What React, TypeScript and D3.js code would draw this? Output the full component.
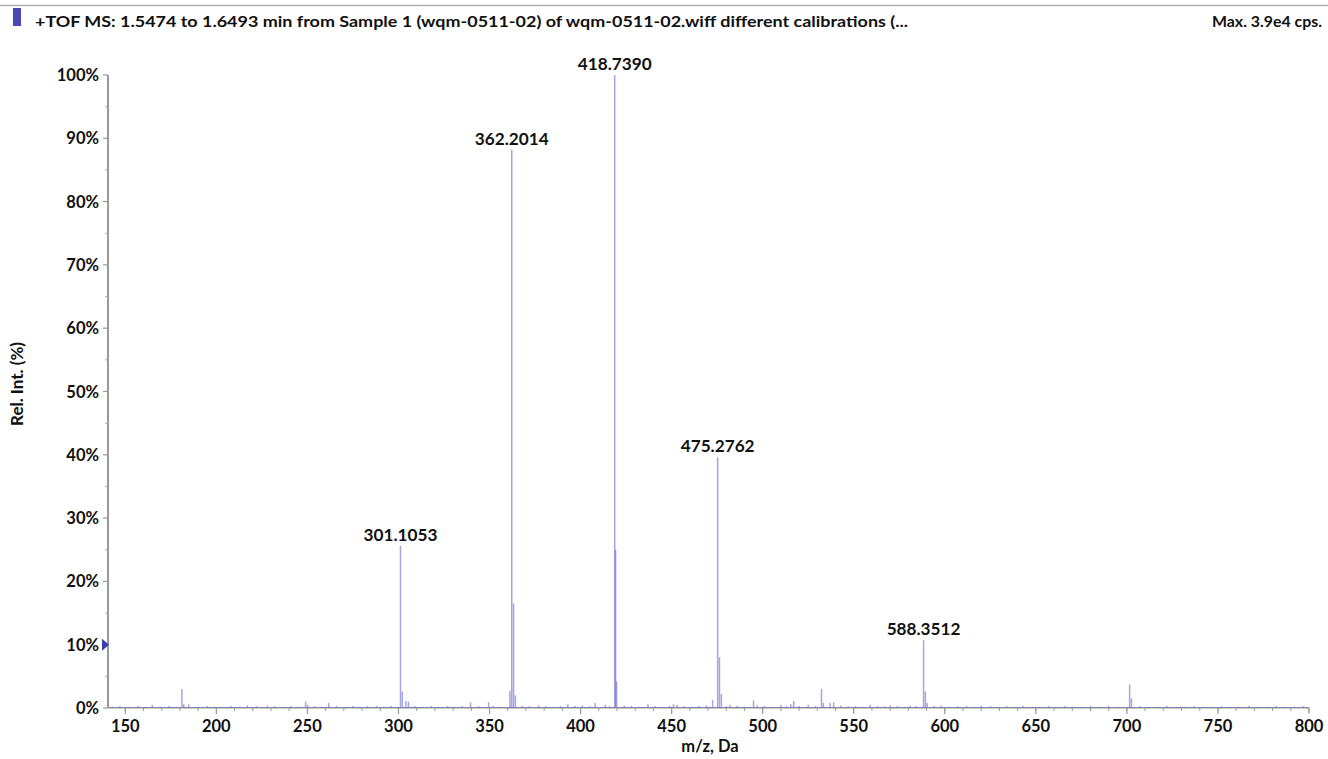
import React from "react";
import * as d3 from "d3";

// Labelled main peaks
const labelMz = [301.1053, 362.2014, 418.739, 475.2762, 588.3512];
const labelInt = [25.6, 88.2, 100, 39.6, 10.7];

// Isotope / adjacent peaks [m/z, rel. int. %]
const isoPeaks: [number, number][] = [
  [181.1, 3.0], [182.1, 0.6], [302.1, 2.6], [304.1, 1.1], [361.2, 2.7], [363.2, 16.5], [364.2, 2.0],
  [419.24, 25.0], [419.74, 4.2], [476.28, 8.0], [477.3, 2.2], [532.3, 3.0], [533.3, 0.8],
  [589.35, 2.6], [590.3, 0.8], [701.5, 3.7], [702.5, 1.5],
];

// Small noise peaks [m/z, rel. int. %]
const noisePeaks: [number, number][] = [
  [143, 0.2], [147, 0.3], [152, 0.2], [157, 0.3], [161, 0.2], [164.8, 0.5], [169, 0.2], [174, 0.3],
  [178, 0.2], [184.8, 0.6], [190, 0.2], [195, 0.3], [199, 0.2], [204, 0.2], [208, 0.3], [213, 0.2],
  [217, 0.4], [222, 0.3], [228, 0.4], [232, 0.3], [237, 0.2], [241, 0.3], [245, 0.2], [249, 1.0],
  [250.2, 0.5], [254, 0.3], [258, 0.2], [261.7, 0.8], [266, 0.3], [271, 0.2], [275, 0.3], [279, 0.2],
  [283, 0.3], [288, 0.3], [292, 0.2], [296, 0.3], [305.5, 1.0], [309, 0.3], [313, 0.2], [318, 0.3],
  [322, 0.2], [327, 0.3], [331, 0.2], [335, 0.3], [339.6, 0.9], [344, 0.3], [349.5, 0.9], [352, 0.3],
  [356, 0.2], [368, 0.3], [372, 0.3], [377, 0.4], [381, 0.3], [385, 0.2], [389, 0.3], [393, 0.6],
  [397, 0.3], [401, 0.4], [405, 0.3], [408, 0.8], [413.6, 0.5], [416, 0.3], [424, 0.4], [428, 0.3],
  [432, 0.2], [437, 0.6], [441, 0.3], [445, 0.2], [449, 0.3], [451, 0.6], [453, 0.5], [457, 0.3],
  [461, 0.2], [465, 0.3], [469, 0.4], [472.5, 1.3], [480, 0.3], [482, 0.5], [486, 0.3], [490, 0.2],
  [495, 1.2], [497, 0.4], [501, 0.3], [505, 0.2], [510, 0.5], [513, 0.3], [515.4, 0.6], [517, 1.1],
  [520, 0.3], [525, 0.5], [529, 0.3], [537, 0.8], [539, 0.9], [543, 0.4], [547, 0.3], [551, 0.3],
  [555, 0.2], [559, 0.5], [563, 0.3], [567, 0.3], [570, 0.4], [574, 0.3], [578, 0.2], [581, 0.3],
  [584, 0.3], [594, 0.3], [598, 0.4], [603, 0.2], [607, 0.3], [612, 0.3], [616, 0.2], [620, 0.3],
  [625, 0.3], [630, 0.2], [634, 0.3], [639, 0.2], [643, 0.3], [648, 0.2], [652, 0.2], [657, 0.3],
  [661, 0.2], [666, 0.3], [670, 0.2], [675, 0.2], [680, 0.3], [685, 0.2], [690, 0.3], [695, 0.2],
  [707, 0.3], [712, 0.2], [717, 0.2], [722, 0.3], [727, 0.2], [732, 0.2], [737, 0.3], [742, 0.2],
  [747, 0.2], [752, 0.3], [757, 0.2], [762, 0.2], [767, 0.3], [772, 0.2], [777, 0.2], [782, 0.3],
  [787, 0.2], [792, 0.2], [797, 0.3],
];

const xTicks = [150, 200, 250, 300, 350, 400, 450, 500, 550, 600, 650, 700, 750, 800];
const yTicks = [0, 10, 20, 30, 40, 50, 60, 70, 80, 90, 100];

const titleText = "+TOF MS: 1.5474 to 1.6493 min from Sample 1 (wqm-0511-02) of wqm-0511-02.wiff different calibrations (...";
const maxText = "Max. 3.9e4 cps.";
const xTitle = "m/z, Da";
const yTitle = "Rel. Int. (%)";

const W = 1328;
const H = 759;
const FONT = "Lato, 'Open Sans', sans-serif";

export default function App() {
  const x = d3.scaleLinear().domain([140.5, 800]).range([108, 1309]);
  const y = d3.scaleLinear().domain([0, 100]).range([708, 75]);

  const sticks: [number, number][] = [
    ...labelMz.map((m, i) => [m, labelInt[i]] as [number, number]),
    ...isoPeaks,
    ...noisePeaks,
  ];
  const minorX = d3.range(150, 801, 10);
  const minorY = d3.range(5, 100, 10);
  const stroke = "#5a5ad2";

  return (
    <svg width={W} height={H} style={{ position: "absolute", left: 0, top: 0, background: "#fff" }} fontFamily={FONT}>
      <rect x={0} y={0} width={W} height={H} fill="#fff" />
      {/* header */}
      <line x1={0} x2={W} y1={5.5} y2={5.5} stroke="#b0b0b0" strokeWidth={1.5} />
      <rect x={13} y={8} width={8} height={18} fill="#4848b8" />
      <text x={35} y={26.5} fontSize={15.5} fontWeight="bold" fill="#111" textLength={873} lengthAdjust="spacingAndGlyphs">{titleText}</text>
      <text x={1212} y={26.5} fontSize={15.5} fontWeight="bold" fill="#111" textLength={110} lengthAdjust="spacingAndGlyphs">{maxText}</text>

      {/* baseline noise line */}
      <line x1={x(140.5)} x2={x(800)} y1={y(0) - 0.5} y2={y(0) - 0.5} stroke="#7070d0" strokeWidth={1.2} />

      {/* sticks */}
      {sticks.map(([m, v], i) => (
        <line key={i} x1={x(m)} x2={x(m)} y1={y(0)} y2={y(v)} stroke={stroke}
          strokeWidth={1.5} strokeOpacity={0.55} />
      ))}

      {/* axes */}
      <line x1={108} x2={108} y1={y(100)} y2={y(0)} stroke="#999" strokeWidth={2} />
      <line x1={108} x2={x(800)} y1={y(0)} y2={y(0)} stroke="#999" strokeWidth={1} />
      {yTicks.map(t => (
        <g key={"y" + t}>
          <line x1={103} x2={108} y1={y(t)} y2={y(t)} stroke="#999" strokeWidth={1.2} />
          <text x={99} y={y(t) + 6} textAnchor="end" fontSize={16.5} fontWeight="bold" fill="#111">{t}%</text>
        </g>
      ))}
      {minorY.map(t => (
        <line key={"my" + t} x1={105} x2={108} y1={y(t)} y2={y(t)} stroke="#aaa" strokeWidth={1} />
      ))}
      {minorX.map(t => (
        <line key={"mx" + t} x1={x(t)} x2={x(t)} y1={y(0)} y2={y(0) + 3} stroke="#999" strokeWidth={1} />
      ))}
      {xTicks.map(t => (
        <g key={"x" + t}>
          <line x1={x(t)} x2={x(t)} y1={y(0)} y2={y(0) + 6} stroke="#999" strokeWidth={1.2} />
          <text x={x(t)} y={732} textAnchor="middle" fontSize={16.5} fontWeight="bold" fill="#111">{t}</text>
        </g>
      ))}

      {/* 10% marker */}
      <path d={`M102,${y(10) - 6} L109,${y(10)} L102,${y(10) + 6} Z`} fill="#3c3cae" />

      {/* peak labels */}
      {labelMz.map((m, i) => (
        <text key={"l" + i} x={x(m)} y={y(labelInt[i]) - 5} textAnchor="middle" fontSize={17.2} fontWeight="bold" fill="#111">
          {m.toFixed(4)}
        </text>
      ))}

      {/* axis titles */}
      <text x={710} y={752} textAnchor="middle" fontSize={16.5} fontWeight="bold" fill="#111">{xTitle}</text>
      <text transform={`translate(23,384) rotate(-90)`} textAnchor="middle" fontSize={17} fontWeight="bold" fill="#111">{yTitle}</text>
    </svg>
  );
}
